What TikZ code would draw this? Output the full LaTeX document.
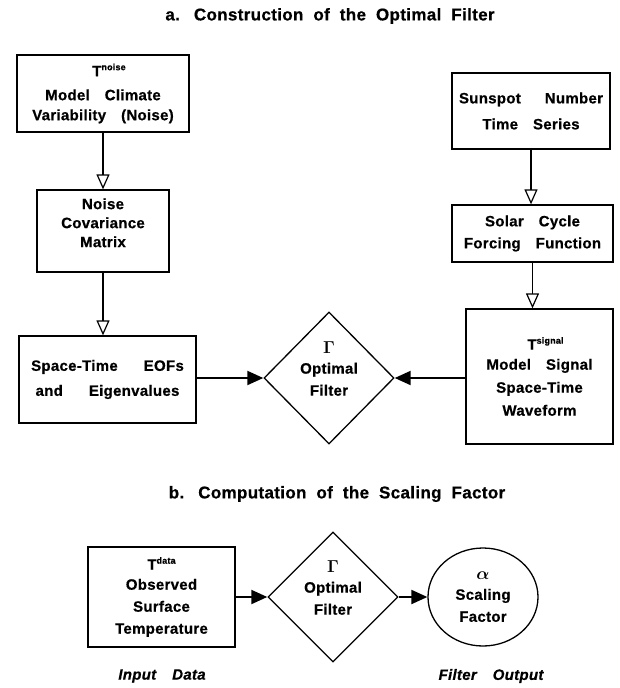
\documentclass[tikz,border=0pt]{standalone}
\usepackage{fontspec}
\setmainfont{Liberation Sans}[LetterSpace=2, BoldFeatures={FakeBold=0.6}, BoldItalicFeatures={FakeBold=0.6}]
\usetikzlibrary{arrows.meta,shapes.geometric}
\newcommand{\supr}[1]{\raisebox{6pt}{\fontsize{9}{9}\selectfont\bfseries #1}}
\newcommand{\wsp}[1]{\spaceskip=#1\relax}
\newcommand{\bigsym}[1]{{\fontsize{17}{17}\selectfont\boldmath$#1$}}
\tikzset{
  every node/.style={font=\fontsize{15}{22}\selectfont\bfseries\wsp{15pt}, align=center, inner sep=0pt},
  boxnode/.style={draw, line width=1.3pt, rectangle},
  dia/.style={draw, line width=1.3pt, diamond, minimum width=112pt, minimum height=132pt},
  circnode/.style={draw, line width=1.3pt, ellipse, minimum width=110pt, minimum height=98pt},
  title/.style={font=\fontsize{17}{19}\selectfont\bfseries\wsp{10pt}},
  lab/.style={font=\fontsize{15}{17}\selectfont\bfseries\itshape\wsp{16pt}},
  openarr/.style={line width=1.2pt, -{Triangle[open, length=15pt, width=13pt, line width=1.2pt]}},
  fillarr/.style={line width=2pt, -{Triangle[length=16pt, width=14pt]}},
}
\begin{document}
\begin{tikzpicture}[x=1pt, y=-1pt]
\useasboundingbox (0,0) rectangle (620,688);
% titles
\node[title] (ta) at (330,16) {a.\hspace{14pt}Construction of the Optimal Filter};
\node[title] (tb) at (337,494) {b.\hspace{14pt}Computation of the Scaling Factor};
% part a
\node[boxnode, minimum width=172pt, minimum height=77pt] (noise) at (103,93.5)
  {\hspace*{12pt}T\supr{noise}\\[2pt] Model Climate\\[-2pt] Variability (Noise)};
\node[boxnode, minimum width=132pt, minimum height=82pt] (cov) at (103,231)
  {Noise\\[-3pt] Covariance\\[-3pt] Matrix\\[-12pt]\strut};
\node[boxnode, minimum width=177pt, minimum height=87pt] (eof) at (107.5,379.5)
  {Space-Time\hspace{26pt}EOFs\\[3pt] and\hspace{26pt}Eigenvalues};
\node[boxnode, minimum width=158pt, minimum height=76pt] (sun) at (531,111)
  {Sunspot\hspace{24pt}Number\\[4pt] Time Series};
\node[boxnode, minimum width=161pt, minimum height=57pt] (solar) at (532.5,233.5)
  {Solar Cycle\\ Forcing Function};
\node[boxnode, minimum width=147pt, minimum height=135pt] (sig) at (539.5,376.5)
  {\hspace*{12pt}T\supr{signal}\\[-2pt] Model Signal\\[1pt] Space-Time\\[1pt] Waveform};
\node[dia] (fa) at (329,378) {\bigsym{\Gamma}\\[-2pt] Optimal\\[0pt] Filter\\[-10pt]\strut};
\draw[openarr] (cov.north |- noise.south) -- (cov.north);
\draw[openarr] (cov.south) -- (cov.south |- eof.north);
\draw[openarr] (sun.south) -- (sun.south |- solar.north);
\draw[openarr] (solar.south) -- (solar.south |- sig.north);
\draw[fillarr] (eof.east |- fa.west) -- (fa.west);
\draw[fillarr] (sig.west |- fa.east) -- (fa.east);
% part b
\node[boxnode, minimum width=147pt, minimum height=100pt] (data) at (161.5,597)
  {T\supr{data}\\[-2pt] Observed\\ Surface\\ Temperature};
\node[dia, minimum width=110pt, minimum height=116pt] (fb) at (333,597)
  {\bigsym{\Gamma}\\[-2pt] Optimal\\[0pt] Filter\\[-10pt]\strut};
\node[circnode] (alpha) at (483,597) {\bigsym{\alpha}\\[-2pt] Scaling\\[0pt] Factor};
\draw[fillarr] (data.east |- fb.west) -- (fb.west);
\draw[fillarr] (fb.east) -- (fb.east -| alpha.west);
\node[lab] (inp) at (162,676) {Input Data};
\node[lab] (outp) at (491,676) {Filter Output};
\end{tikzpicture}
\end{document}
